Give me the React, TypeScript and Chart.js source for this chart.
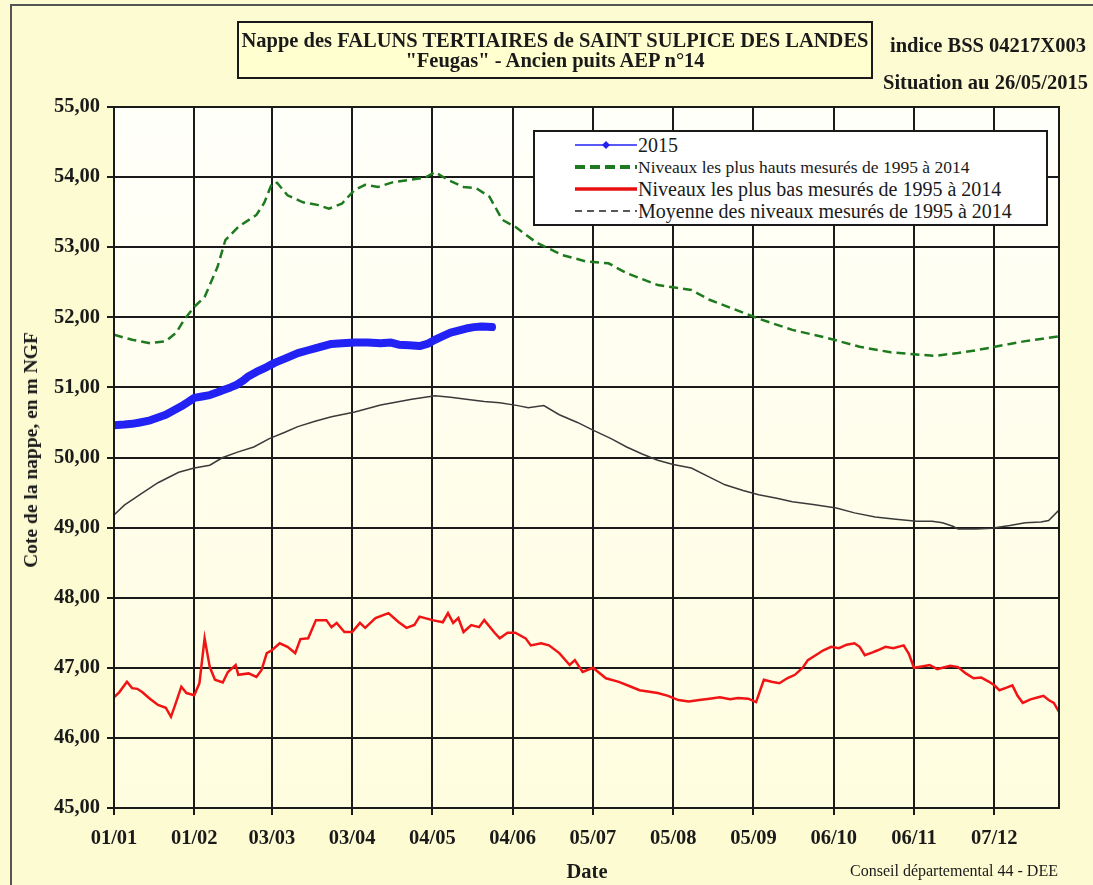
import React, { useEffect, useRef } from 'react';
import { Chart, registerables } from 'chart.js';

Chart.register(...registerables);

// ---- Axis ticks ----
const xTickDays = [0, 31, 61, 92, 123, 154, 185, 216, 247, 278, 309, 340];
const xTickLabels = ['01/01', '01/02', '03/03', '03/04', '04/05', '04/06', '05/07', '05/08', '05/09', '06/10', '06/11', '07/12'];
const yTickValues = [45, 46, 47, 48, 49, 50, 51, 52, 53, 54, 55];
const yTickLabels = ['45,00', '46,00', '47,00', '48,00', '49,00', '50,00', '51,00', '52,00', '53,00', '54,00', '55,00'];

// ---- Series labels ----
const seriesLabels = [
  '2015',
  'Niveaux les plus hauts mesurés de 1995 à 2014',
  'Niveaux les plus bas mesurés de 1995 à 2014',
  'Moyenne des niveaux mesurés de 1995 à 2014',
];

// ---- 2015 ----
const days2015 = [0, 4, 7, 10, 14, 17, 20, 23, 26, 29, 31, 34, 37, 40, 42, 45, 47, 50, 52, 55, 59, 62, 66, 71, 75, 78, 84, 88, 93, 98, 103, 107, 110, 114, 118, 121, 124, 127, 130, 133, 136, 139, 142, 146];
const level2015 = [50.46, 50.47, 50.48, 50.5, 50.53, 50.57, 50.61, 50.67, 50.73, 50.8, 50.85, 50.87, 50.89, 50.93, 50.96, 51.0, 51.03, 51.1, 51.16, 51.22, 51.29, 51.35, 51.41, 51.49, 51.53, 51.56, 51.62, 51.63, 51.64, 51.64, 51.63, 51.64, 51.61, 51.6, 51.59, 51.62, 51.68, 51.73, 51.78, 51.81, 51.84, 51.86, 51.87, 51.86];

// ---- Highest levels 1995-2014 ----
const daysMax = [0, 7, 14, 20, 24, 27, 31, 35, 40, 43, 48, 55, 58, 61, 63, 67, 73, 79, 83, 88, 93, 97, 102, 108, 114, 120, 124, 129, 135, 140, 145, 150, 155, 163, 173, 182, 191, 198, 210, 223, 230, 242, 249, 262, 275, 288, 300, 310, 317, 326, 333, 339, 346, 352, 358, 365];
const levelMax = [51.75, 51.68, 51.63, 51.66, 51.78, 51.96, 52.15, 52.29, 52.72, 53.1, 53.29, 53.46, 53.63, 53.91, 53.92, 53.74, 53.64, 53.6, 53.55, 53.62, 53.82, 53.89, 53.86, 53.93, 53.96, 53.99, 54.07, 53.96, 53.86, 53.84, 53.72, 53.39, 53.29, 53.07, 52.89, 52.8, 52.77, 52.63, 52.46, 52.39, 52.25, 52.08, 51.98, 51.82, 51.71, 51.58, 51.5, 51.47, 51.45, 51.49, 51.53, 51.57, 51.62, 51.66, 51.69, 51.73];

// ---- Lowest levels 1995-2014 ----
const daysMin = [0, 2, 5, 7, 9, 11, 13.5, 17, 20, 22, 24, 26, 28, 31, 33, 35, 37, 39, 42, 44, 47, 48, 52, 55, 57, 59, 61, 64, 67, 70, 72, 75, 78, 82, 84, 86, 89, 92, 95, 97, 101, 106, 110, 113, 116, 118, 123, 127, 129, 131, 133, 135, 138, 141, 143, 147, 149, 152, 155, 159, 161, 165, 168, 172, 176, 178, 181, 185, 190, 195, 199, 203, 210, 214, 218, 222, 226, 230, 234, 238, 241, 245, 248, 251, 254, 257, 260, 263, 266, 268, 271, 274, 277, 280, 283, 286, 288, 290, 293, 295, 298, 301, 305, 307, 309, 312, 315, 318, 320, 323, 326, 329, 332, 335, 338, 340, 342, 345, 347, 349, 351, 354, 357, 359, 361, 363, 365];
const levelMin = [46.58, 46.65, 46.8, 46.71, 46.7, 46.65, 46.57, 46.47, 46.43, 46.3, 46.51, 46.73, 46.64, 46.61, 46.78, 47.42, 47.01, 46.83, 46.79, 46.94, 47.04, 46.9, 46.92, 46.87, 46.97, 47.21, 47.25, 47.35, 47.3, 47.21, 47.41, 47.42, 47.68, 47.68, 47.58, 47.64, 47.51, 47.51, 47.64, 47.57, 47.71, 47.78, 47.65, 47.57, 47.61, 47.73, 47.68, 47.65, 47.78, 47.64, 47.71, 47.51, 47.61, 47.58, 47.68, 47.5, 47.42, 47.5, 47.5, 47.42, 47.32, 47.35, 47.32, 47.21, 47.04, 47.11, 46.94, 47.0, 46.85, 46.8, 46.74, 46.68, 46.64, 46.6, 46.54, 46.52, 46.54, 46.56, 46.58, 46.55, 46.57, 46.56, 46.51, 46.83, 46.8, 46.78, 46.85, 46.9, 47.0, 47.11, 47.18, 47.25, 47.3, 47.28, 47.33, 47.35, 47.3, 47.18, 47.22, 47.25, 47.3, 47.28, 47.32, 47.2, 47.0, 47.02, 47.04, 46.98, 47.0, 47.03, 47.01, 46.92, 46.85, 46.86, 46.8, 46.75, 46.68, 46.72, 46.75, 46.6, 46.5, 46.55, 46.58, 46.6, 46.54, 46.5, 46.37];

// ---- Mean levels 1995-2014 ----
const daysMean = [0, 4, 10, 17, 25, 31, 37, 42, 48, 54, 60, 66, 71, 78, 84, 93, 103, 115, 124, 130, 136, 143, 149, 156, 160, 166, 172, 179, 185, 192, 198, 204, 210, 216, 223, 230, 236, 243, 249, 256, 262, 270, 279, 286, 294, 302, 310, 316, 320, 324, 326, 333, 339, 346, 352, 358, 361, 365];
const levelMean = [49.18, 49.32, 49.47, 49.64, 49.79, 49.85, 49.89, 50.0, 50.08, 50.15, 50.27, 50.36, 50.44, 50.52, 50.58, 50.65, 50.75, 50.83, 50.88, 50.86, 50.83, 50.8, 50.78, 50.74, 50.71, 50.74, 50.61, 50.5, 50.39, 50.27, 50.15, 50.05, 49.96, 49.9, 49.85, 49.72, 49.61, 49.53, 49.47, 49.42, 49.37, 49.33, 49.28, 49.21, 49.15, 49.12, 49.09, 49.09, 49.07, 49.02, 48.98, 48.98, 48.99, 49.03, 49.07, 49.08, 49.1, 49.25];

const SERIF = "'Liberation Serif', 'Times New Roman', serif";
const pts = (xs: number[], ys: number[]) => xs.map((x, i) => ({ x, y: ys[i] }));

const plotBg = {
  id: 'plotBg',
  beforeDraw(chart: any) {
    const { ctx, chartArea: a } = chart;
    const g = ctx.createLinearGradient(0, a.top, 0, a.bottom);
    g.addColorStop(0, '#FFFFFA');
    g.addColorStop(1, '#FFFDDF');
    ctx.save();
    ctx.fillStyle = g;
    ctx.fillRect(a.left, a.top, a.right - a.left, a.bottom - a.top);
    ctx.restore();
  },
  afterDraw(chart: any) {
    const { ctx, chartArea: a } = chart;
    ctx.save();
    ctx.strokeStyle = '#1a1a1a';
    ctx.lineWidth = 2;
    ctx.strokeRect(a.left, a.top, a.right - a.left, a.bottom - a.top);
    ctx.restore();
  },
};

export default function App() {
  const ref = useRef<HTMLCanvasElement | null>(null);

  useEffect(() => {
    if (!ref.current) return;
    const tickFont = { family: SERIF, size: 20.5, weight: 'bold' as const };
    const chart = new Chart(ref.current, {
      type: 'line',
      data: {
        datasets: [
          { label: seriesLabels[0], data: pts(days2015, level2015), borderColor: '#2222F5', borderWidth: 8, pointRadius: 0, borderCapStyle: 'round', borderJoinStyle: 'round' },
          { label: seriesLabels[1], data: pts(daysMax, levelMax), borderColor: '#1E7A1E', borderWidth: 2.5, borderDash: [9, 5], pointRadius: 0 },
          { label: seriesLabels[2], data: pts(daysMin, levelMin), borderColor: '#F01414', borderWidth: 2.5, pointRadius: 0 },
          { label: seriesLabels[3], data: pts(daysMean, levelMean), borderColor: '#3A3A3A', borderWidth: 1.5, pointRadius: 0 },
        ],
      },
      options: {
        responsive: false,
        animation: false,
        devicePixelRatio: 1,
        layout: { padding: { left: 0, right: 34, top: 107, bottom: 0 } },
        plugins: { legend: { display: false }, tooltip: { enabled: false }, title: { display: false } },
        elements: { line: { tension: 0 } },
        scales: {
          x: {
            type: 'linear',
            min: 0,
            max: 365,
            afterBuildTicks: (s: any) => { s.ticks = xTickDays.map((v) => ({ value: v })); },
            afterFit: (s: any) => { s.height = 77; },
            ticks: {
              autoSkip: false,
              maxRotation: 0,
              padding: 11,
              color: '#1a1a1a',
              font: tickFont,
              callback: (v: any) => { const i = xTickDays.indexOf(Number(v)); return i >= 0 ? xTickLabels[i] : ''; },
            },
            grid: { color: '#1a1a1a', lineWidth: 2, tickLength: 7, drawTicks: true },
            border: { display: true, color: '#1a1a1a', width: 2 },
          },
          y: {
            type: 'linear',
            min: 45,
            max: 55,
            afterBuildTicks: (s: any) => { s.ticks = yTickValues.map((v) => ({ value: v })); },
            afterFit: (s: any) => { s.width = 114; },
            ticks: {
              padding: 7,
              color: '#1a1a1a',
              font: tickFont,
              callback: (v: any) => { const i = yTickValues.indexOf(Number(v)); return i >= 0 ? yTickLabels[i] : ''; },
            },
            grid: { color: '#1a1a1a', lineWidth: 2, tickLength: 7, drawTicks: true },
            border: { display: true, color: '#1a1a1a', width: 2 },
          },
        },
      },
      plugins: [plotBg],
    });
    return () => chart.destroy();
  }, []);

  const abs = (o: React.CSSProperties): React.CSSProperties => ({ position: 'absolute', whiteSpace: 'nowrap', fontFamily: SERIF, color: '#1a1a1a', ...o });

  return (
    <div style={{ position: 'fixed', left: 0, top: 0, width: 1093, height: 885, overflow: 'hidden', background: '#FDFBD2' }}>
      <div style={{ position: 'absolute', left: 10, top: 4, width: 1200, height: 1000, borderLeft: '2px solid #555', borderTop: '2px solid #555' }} />
      <canvas ref={ref} width={1093} height={885} style={{ position: 'absolute', left: 0, top: 0, width: 1093, height: 885 }} />

      {/* Title box */}
      <div style={{ position: 'absolute', left: 237, top: 21, width: 636, height: 58, boxSizing: 'border-box', border: '2px solid #1a1a1a', background: '#FFFFCF' }} />
      <div style={abs({ left: 237, width: 636, top: 28, lineHeight: '24px', textAlign: 'center', fontSize: 20.5, fontWeight: 'bold' })}>Nappe des FALUNS TERTIAIRES de SAINT SULPICE DES LANDES</div>
      <div style={abs({ left: 237, width: 636, top: 48, lineHeight: '24px', textAlign: 'center', fontSize: 20.5, fontWeight: 'bold' })}>"Feugas" - Ancien puits AEP n°14</div>

      <div style={abs({ left: 890, top: 33, lineHeight: '24px', fontSize: 20.5, fontWeight: 'bold' })}>indice BSS 04217X003</div>
      <div style={abs({ left: 883, top: 70, lineHeight: '24px', fontSize: 20.5, fontWeight: 'bold' })}>Situation au 26/05/2015</div>

      {/* Y axis title */}
      <div style={abs({ left: 31, top: 450, lineHeight: '24px', fontSize: 19.5, fontWeight: 'bold', transform: 'translate(-50%, -50%) rotate(-90deg)' })}>Cote de la nappe, en m NGF</div>

      {/* X axis title */}
      <div style={abs({ left: 587, top: 859, lineHeight: '24px', fontSize: 20.5, fontWeight: 'bold', transform: 'translateX(-50%)' })}>Date</div>
      <div style={abs({ left: 850, top: 860, lineHeight: '22px', fontSize: 16 })}>Conseil départemental 44 - DEE</div>

      {/* Legend */}
      <div style={{ position: 'absolute', left: 533, top: 130, width: 515, height: 96, boxSizing: 'border-box', border: '2px solid #1a1a1a', background: '#FFFFFF' }} />
      <svg width={1093} height={885} style={{ position: 'absolute', left: 0, top: 0, pointerEvents: 'none' }}>
        <line x1={575} y1={145} x2={637} y2={145} stroke="#2222F5" strokeWidth={1.5} />
        <polygon points="606,141 610,145 606,149 602,145" fill="#2222F5" />
        <line x1={575} y1={167} x2={637} y2={167} stroke="#1E7A1E" strokeWidth={4} strokeDasharray="10,5" />
        <line x1={575} y1={189} x2={637} y2={189} stroke="#E81010" strokeWidth={3.5} />
        <line x1={575} y1={211} x2={637} y2={211} stroke="#222" strokeWidth={1.5} strokeDasharray="7,5" />
      </svg>
      <div style={abs({ left: 638, top: 133, lineHeight: '24px', fontSize: 20 })}>{seriesLabels[0]}</div>
      <div style={abs({ left: 638, top: 155, lineHeight: '24px', fontSize: 17.5 })}>{seriesLabels[1]}</div>
      <div style={abs({ left: 638, top: 177, lineHeight: '24px', fontSize: 20 })}>{seriesLabels[2]}</div>
      <div style={abs({ left: 638, top: 199, lineHeight: '24px', fontSize: 20 })}>{seriesLabels[3]}</div>
    </div>
  );
}
